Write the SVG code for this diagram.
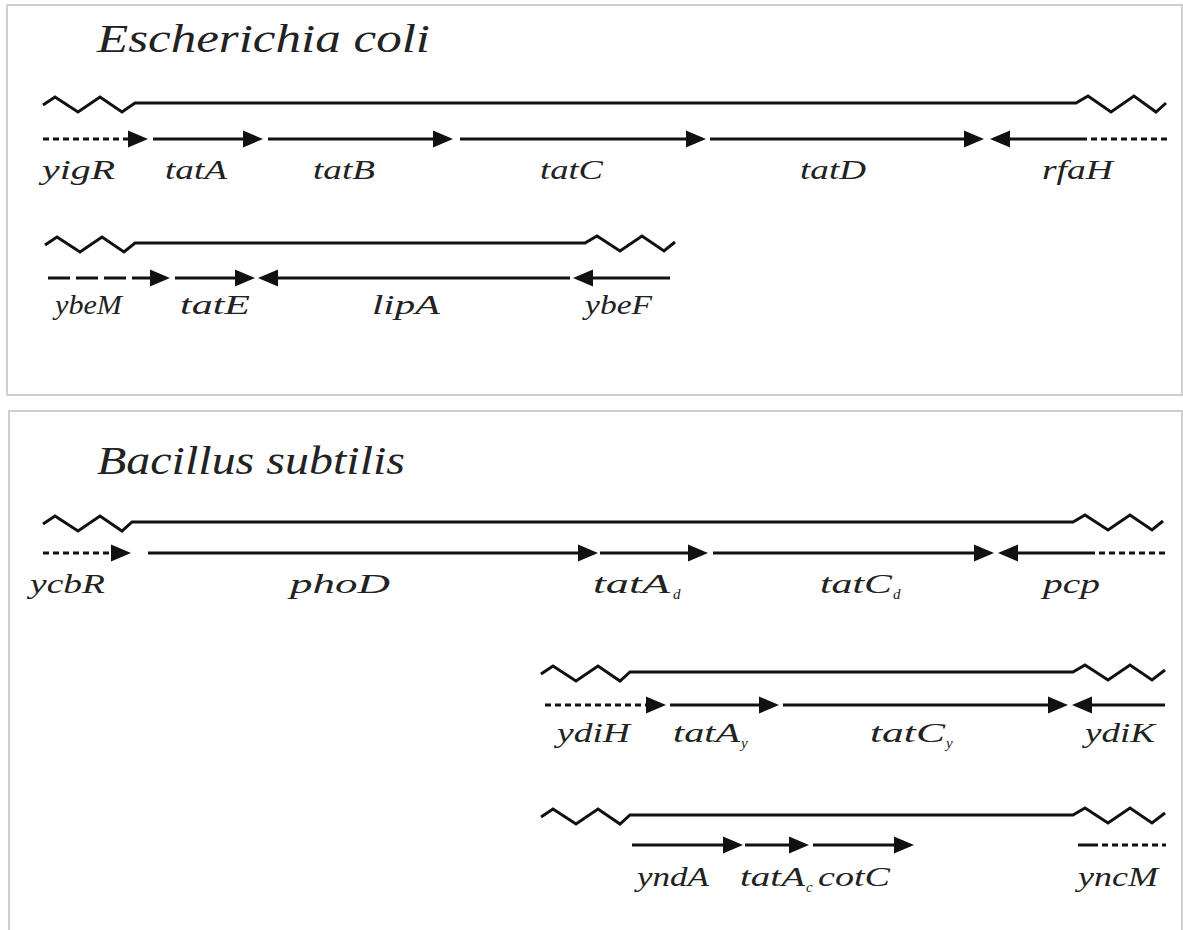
<svg xmlns="http://www.w3.org/2000/svg" width="1183" height="930" viewBox="0 0 1183 930">
<style>
.frame{fill:none;stroke:#cfcfcf;stroke-width:2}
.bb{fill:none;stroke:#111;stroke-width:3;stroke-linejoin:miter}
.g{fill:none;stroke:#111;stroke-width:3}
.dot{stroke-dasharray:6 4}
.dash{stroke-dasharray:22 6}
.t{font-family:"Liberation Serif","Times New Roman",serif;font-style:italic;fill:#222}
.title{font-size:39px}
.lab{font-size:28px}
.sub{font-size:15px}
</style>
<defs>
<marker id="ah" markerUnits="userSpaceOnUse" markerWidth="20" markerHeight="18" refX="0" refY="8.5" orient="auto" viewBox="0 0 20 17">
<path d="M0,0 L20,8.5 L0,17 z" fill="#111"/>
</marker>
</defs>
<rect width="1183" height="930" fill="#fff"/>
<rect class="frame" x="7" y="5" width="1175" height="390"/>
<rect class="frame" x="9" y="411" width="1173" height="540"/>

<g id="ecoli">
<text class="t title" x="97" y="52" textLength="333" lengthAdjust="spacingAndGlyphs">Escherichia coli</text>
</g>
<g id="bsub">
<text class="t title" x="97" y="474" textLength="308" lengthAdjust="spacingAndGlyphs">Bacillus subtilis</text>
</g>

<g id="backbones">
<path class="bb" d="M43,105 L55,97 L78,112 L100,97 L122,112 L135,103 L1076,103 L1088,96 L1111,112 L1134,96 L1156,112 L1166,103"/>
<path class="bb" d="M45,245 L57,237 L80,252 L102,237 L124,252 L135,243 L585,243 L597,236 L620,251 L642,236 L664,251 L675,242"/>
<path class="bb" d="M43,524 L55,516 L78,531 L100,516 L122,531 L132,522 L1073,522 L1085,515 L1108,530 L1130,515 L1152,530 L1163,521"/>
<path class="bb" d="M541,674 L553,666 L576,681 L598,666 L620,681 L630,672 L1073,672 L1085,665 L1108,680 L1130,665 L1152,680 L1165,670"/>
<path class="bb" d="M541,817 L553,809 L576,824 L598,809 L620,824 L630,815 L1073,815 L1085,808 L1108,823 L1130,808 L1152,823 L1165,813"/>
</g>

<g id="connectors">
<!-- E. coli row 1 -->
<line class="g dot" x1="43" y1="139" x2="128" y2="139" marker-end="url(#ah)"/>
<line class="g" x1="153" y1="139" x2="243" y2="139" marker-end="url(#ah)"/>
<line class="g" x1="268" y1="139" x2="433" y2="139" marker-end="url(#ah)"/>
<line class="g" x1="460" y1="139" x2="686" y2="139" marker-end="url(#ah)"/>
<line class="g" x1="710" y1="139" x2="964" y2="139" marker-end="url(#ah)"/>
<line class="g" x1="1083" y1="139" x2="1010" y2="139" marker-end="url(#ah)"/>
<line class="g dot" x1="1167" y1="139" x2="1083" y2="139"/>
<!-- E. coli row 2 -->
<line class="g dash" x1="48" y1="278" x2="150" y2="278" marker-end="url(#ah)"/>
<line class="g" x1="175" y1="278" x2="235" y2="278" marker-end="url(#ah)"/>
<line class="g" x1="570" y1="278" x2="278" y2="278" marker-end="url(#ah)"/>
<line class="g" x1="670" y1="278" x2="593" y2="278" marker-end="url(#ah)"/>
<!-- B. subtilis row 1 -->
<line class="g dot" x1="43" y1="553" x2="111" y2="553" marker-end="url(#ah)"/>
<line class="g" x1="148" y1="553" x2="578" y2="553" marker-end="url(#ah)"/>
<line class="g" x1="600" y1="553" x2="688" y2="553" marker-end="url(#ah)"/>
<line class="g" x1="713" y1="553" x2="974" y2="553" marker-end="url(#ah)"/>
<line class="g" x1="1095" y1="553" x2="1018" y2="553" marker-end="url(#ah)"/>
<line class="g dot" x1="1165" y1="553" x2="1095" y2="553"/>
<!-- B. subtilis row 2 -->
<line class="g dot" x1="545" y1="705" x2="646" y2="705" marker-end="url(#ah)"/>
<line class="g" x1="670" y1="705" x2="759" y2="705" marker-end="url(#ah)"/>
<line class="g" x1="783" y1="705" x2="1048" y2="705" marker-end="url(#ah)"/>
<line class="g" x1="1165" y1="705" x2="1092" y2="705" marker-end="url(#ah)"/>
<!-- B. subtilis row 3 -->
<line class="g" x1="632" y1="845" x2="723" y2="845" marker-end="url(#ah)"/>
<line class="g" x1="745" y1="845" x2="789" y2="845" marker-end="url(#ah)"/>
<line class="g" x1="813" y1="845" x2="894" y2="845" marker-end="url(#ah)"/>
<line class="g" x1="1078" y1="845" x2="1098" y2="845"/>
<line class="g dot" x1="1102" y1="845" x2="1166" y2="845"/>
</g>

<g id="labels-ecoli">
<text class="t lab" x="42" y="179" textLength="73" lengthAdjust="spacingAndGlyphs">yigR</text>
<text class="t lab" x="165" y="179" textLength="62" lengthAdjust="spacingAndGlyphs">tatA</text>
<text class="t lab" x="313" y="179" textLength="62" lengthAdjust="spacingAndGlyphs">tatB</text>
<text class="t lab" x="540" y="179" textLength="63" lengthAdjust="spacingAndGlyphs">tatC</text>
<text class="t lab" x="800" y="179" textLength="66" lengthAdjust="spacingAndGlyphs">tatD</text>
<text class="t lab" x="1042" y="179" textLength="71" lengthAdjust="spacingAndGlyphs">rfaH</text>
<text class="t lab" x="55" y="314" textLength="67" lengthAdjust="spacingAndGlyphs">ybeM</text>
<text class="t lab" x="180" y="314" textLength="70" lengthAdjust="spacingAndGlyphs">tatE</text>
<text class="t lab" x="372" y="314" textLength="68" lengthAdjust="spacingAndGlyphs">lipA</text>
<text class="t lab" x="585" y="314" textLength="67" lengthAdjust="spacingAndGlyphs">ybeF</text>
</g>

<g id="labels-bsub">
<text class="t lab" x="30" y="593" textLength="75" lengthAdjust="spacingAndGlyphs">ycbR</text>
<text class="t lab" x="290" y="593" textLength="100" lengthAdjust="spacingAndGlyphs">phoD</text>
<text class="t lab" x="593" y="593" textLength="77" lengthAdjust="spacingAndGlyphs">tatA</text>
<text class="t sub" x="673" y="599">d</text>
<text class="t lab" x="820" y="593" textLength="72" lengthAdjust="spacingAndGlyphs">tatC</text>
<text class="t sub" x="893" y="599">d</text>
<text class="t lab" x="1043" y="593" textLength="57" lengthAdjust="spacingAndGlyphs">pcp</text>

<text class="t lab" x="557" y="742" textLength="73" lengthAdjust="spacingAndGlyphs">ydiH</text>
<text class="t lab" x="673" y="742" textLength="67" lengthAdjust="spacingAndGlyphs">tatA</text>
<text class="t sub" x="741" y="748">y</text>
<text class="t lab" x="870" y="742" textLength="75" lengthAdjust="spacingAndGlyphs">tatC</text>
<text class="t sub" x="946" y="748">y</text>
<text class="t lab" x="1085" y="742" textLength="70" lengthAdjust="spacingAndGlyphs">ydiK</text>

<text class="t lab" x="637" y="886" textLength="72" lengthAdjust="spacingAndGlyphs">yndA</text>
<text class="t lab" x="740" y="886" textLength="65" lengthAdjust="spacingAndGlyphs">tatA</text>
<text class="t sub" x="806" y="892">c</text>
<text class="t lab" x="818" y="886" textLength="72" lengthAdjust="spacingAndGlyphs">cotC</text>
<text class="t lab" x="1078" y="886" textLength="80" lengthAdjust="spacingAndGlyphs">yncM</text>
</g>
</svg>
